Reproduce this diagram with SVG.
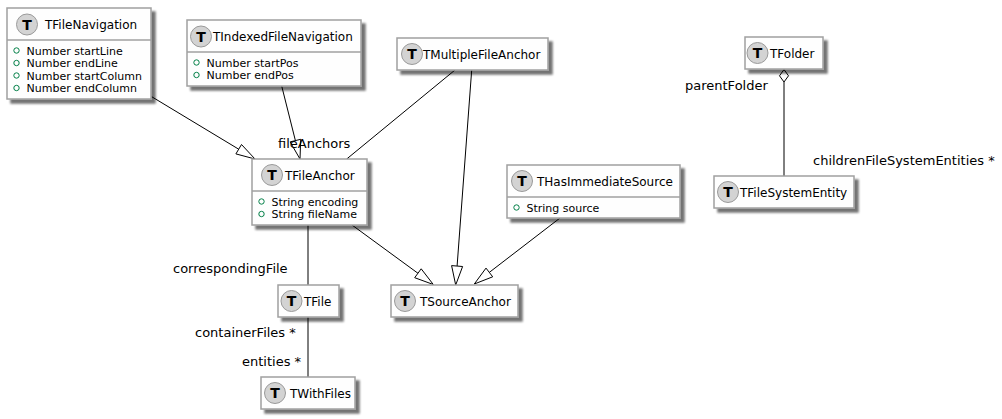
<svg xmlns="http://www.w3.org/2000/svg" width="1002" height="419" viewBox="0 0 1002 419">
<defs>
<filter id="sh" x="-10%" y="-10%" width="130%" height="150%">
<feGaussianBlur in="SourceAlpha" stdDeviation="1.2"/>
<feOffset dx="4" dy="4" result="o"/>
<feComponentTransfer><feFuncA type="linear" slope="0.55"/></feComponentTransfer>
<feMerge><feMergeNode/><feMergeNode in="SourceGraphic"/></feMerge>
</filter>
</defs>
<style>
.box{fill:#FEFEFE;stroke:#A0A0A0;stroke-width:1.5;filter:url(#sh)}
.sep{stroke:#A0A0A0;stroke-width:1.5}
.ic{fill:#D3D3D3;stroke:#9A9A9A;stroke-width:1}
.it{font-family:"DejaVu Sans",sans-serif;font-size:14px;font-weight:bold;fill:#000;text-anchor:middle}
.tt{font-family:"DejaVu Sans",sans-serif;font-size:12px;fill:#000}
.at{font-family:"DejaVu Sans",sans-serif;font-size:11px;fill:#000}
.ac{fill:none;stroke:#038048;stroke-width:1}
.lb{font-family:"DejaVu Sans",sans-serif;font-size:13px;fill:#000}
.ln{stroke:#000;stroke-width:1;fill:none}
.ah{fill:#FFF;stroke:#000;stroke-width:1}
</style>

<g id="connectors">
<line class="ln" x1="151.7" y1="96.7" x2="238.7" y2="149.2"/>
<polygon class="ah" points="255,159 235.9,153.9 241.5,144.5"/>
<line class="ln" x1="281.7" y1="86" x2="295.4" y2="140.6"/>
<polygon class="ah" points="300,159 290.1,141.9 300.7,139.3"/>
<line class="ln" x1="455" y1="70" x2="346.7" y2="159"/>
<line class="ln" x1="471.7" y1="70" x2="457.1" y2="266"/>
<polygon class="ah" points="455.7,285 451.6,265.6 462.6,266.5"/>
<line class="ln" x1="352" y1="225" x2="418" y2="273.3"/>
<polygon class="ah" points="433.3,284.5 414.7,277.7 421.2,268.8"/>
<line class="ln" x1="560" y1="218" x2="489.3" y2="272.4"/>
<polygon class="ah" points="474.3,284 492.7,276.8 486,268.1"/>
<line class="ln" x1="308" y1="225" x2="308" y2="285"/>
<line class="ln" x1="308" y1="317" x2="308" y2="377"/>
<line class="ln" x1="784" y1="82" x2="784" y2="176"/>
<polygon class="ah" points="784,69.5 788.5,75.8 784,82 779.5,75.8"/>
<text class="lb" x="278" y="148">fileAnchors</text>
<text class="lb" x="685" y="89.5">parentFolder</text>
<text class="lb" x="813" y="164.5">childrenFileSystemEntities *</text>
<text class="lb" x="173" y="273">correspondingFile</text>
<text class="lb" x="195" y="336.5">containerFiles *</text>
<text class="lb" x="242" y="366">entities *</text>
</g>

<g id="TFileNavigation">
<rect class="box" x="7" y="8" width="144" height="91"/>
<circle class="ic" cx="27" cy="24.5" r="10.5"/><text class="it" x="27" y="29.5">T</text>
<text class="tt" x="45" y="29">TFileNavigation</text>
<line class="sep" x1="7" y1="40" x2="151" y2="40"/>
<circle class="ac" cx="16.5" cy="50.5" r="2.7"/><text class="at" x="26.5" y="54.5">Number startLine</text>
<circle class="ac" cx="16.5" cy="63" r="2.7"/><text class="at" x="26.5" y="67">Number endLine</text>
<circle class="ac" cx="16.5" cy="75.5" r="2.7"/><text class="at" x="26.5" y="79.5">Number startColumn</text>
<circle class="ac" cx="16.5" cy="88" r="2.7"/><text class="at" x="26.5" y="92">Number endColumn</text>
</g>

<g id="TIndexedFileNavigation">
<rect class="box" x="187" y="20" width="174" height="66"/>
<circle class="ic" cx="201" cy="36.5" r="10.5"/><text class="it" x="201" y="41.5">T</text>
<text class="tt" x="213" y="41">TIndexedFileNavigation</text>
<line class="sep" x1="187" y1="52" x2="361" y2="52"/>
<circle class="ac" cx="196.5" cy="62.5" r="2.7"/><text class="at" x="206.5" y="66.5">Number startPos</text>
<circle class="ac" cx="196.5" cy="75" r="2.7"/><text class="at" x="206.5" y="79">Number endPos</text>
</g>

<g id="TMultipleFileAnchor">
<rect class="box" x="397" y="38" width="151" height="32"/>
<circle class="ic" cx="412" cy="54" r="10.5"/><text class="it" x="412" y="59">T</text>
<text class="tt" x="423" y="58.5">TMultipleFileAnchor</text>
</g>

<g id="TFolder">
<rect class="box" x="745" y="37" width="78" height="32"/>
<circle class="ic" cx="757.5" cy="53" r="10.5"/><text class="it" x="757.5" y="58">T</text>
<text class="tt" x="770" y="57.5">TFolder</text>
</g>

<g id="TFileAnchor">
<rect class="box" x="252" y="159" width="115" height="66"/>
<circle class="ic" cx="272" cy="175" r="10.5"/><text class="it" x="272" y="180">T</text>
<text class="tt" x="285" y="180">TFileAnchor</text>
<line class="sep" x1="252" y1="191" x2="367" y2="191"/>
<circle class="ac" cx="261.5" cy="201.5" r="2.7"/><text class="at" x="271.5" y="205.5">String encoding</text>
<circle class="ac" cx="261.5" cy="214" r="2.7"/><text class="at" x="271.5" y="218">String fileName</text>
</g>

<g id="THasImmediateSource">
<rect class="box" x="507" y="165" width="173" height="53"/>
<circle class="ic" cx="522" cy="181" r="10.5"/><text class="it" x="522" y="186">T</text>
<text class="tt" x="537" y="186">THasImmediateSource</text>
<line class="sep" x1="507" y1="197" x2="680" y2="197"/>
<circle class="ac" cx="516.5" cy="207.5" r="2.7"/><text class="at" x="526.5" y="211.5">String source</text>
</g>

<g id="TFileSystemEntity">
<rect class="box" x="714" y="176" width="140" height="32"/>
<circle class="ic" cx="728" cy="192" r="10.5"/><text class="it" x="728" y="197">T</text>
<text class="tt" x="740" y="196.5">TFileSystemEntity</text>
</g>

<g id="TFile">
<rect class="box" x="278" y="285" width="61" height="32"/>
<circle class="ic" cx="291.5" cy="301" r="10.5"/><text class="it" x="291.5" y="306">T</text>
<text class="tt" x="304" y="305.5">TFile</text>
</g>

<g id="TSourceAnchor">
<rect class="box" x="391" y="285" width="127" height="32"/>
<circle class="ic" cx="405" cy="301" r="10.5"/><text class="it" x="405" y="306">T</text>
<text class="tt" x="420" y="305.5">TSourceAnchor</text>
</g>

<g id="TWithFiles">
<rect class="box" x="261" y="377" width="94" height="32"/>
<circle class="ic" cx="275" cy="393" r="10.5"/><text class="it" x="275" y="398">T</text>
<text class="tt" x="290" y="397.5">TWithFiles</text>
</g>
</svg>
